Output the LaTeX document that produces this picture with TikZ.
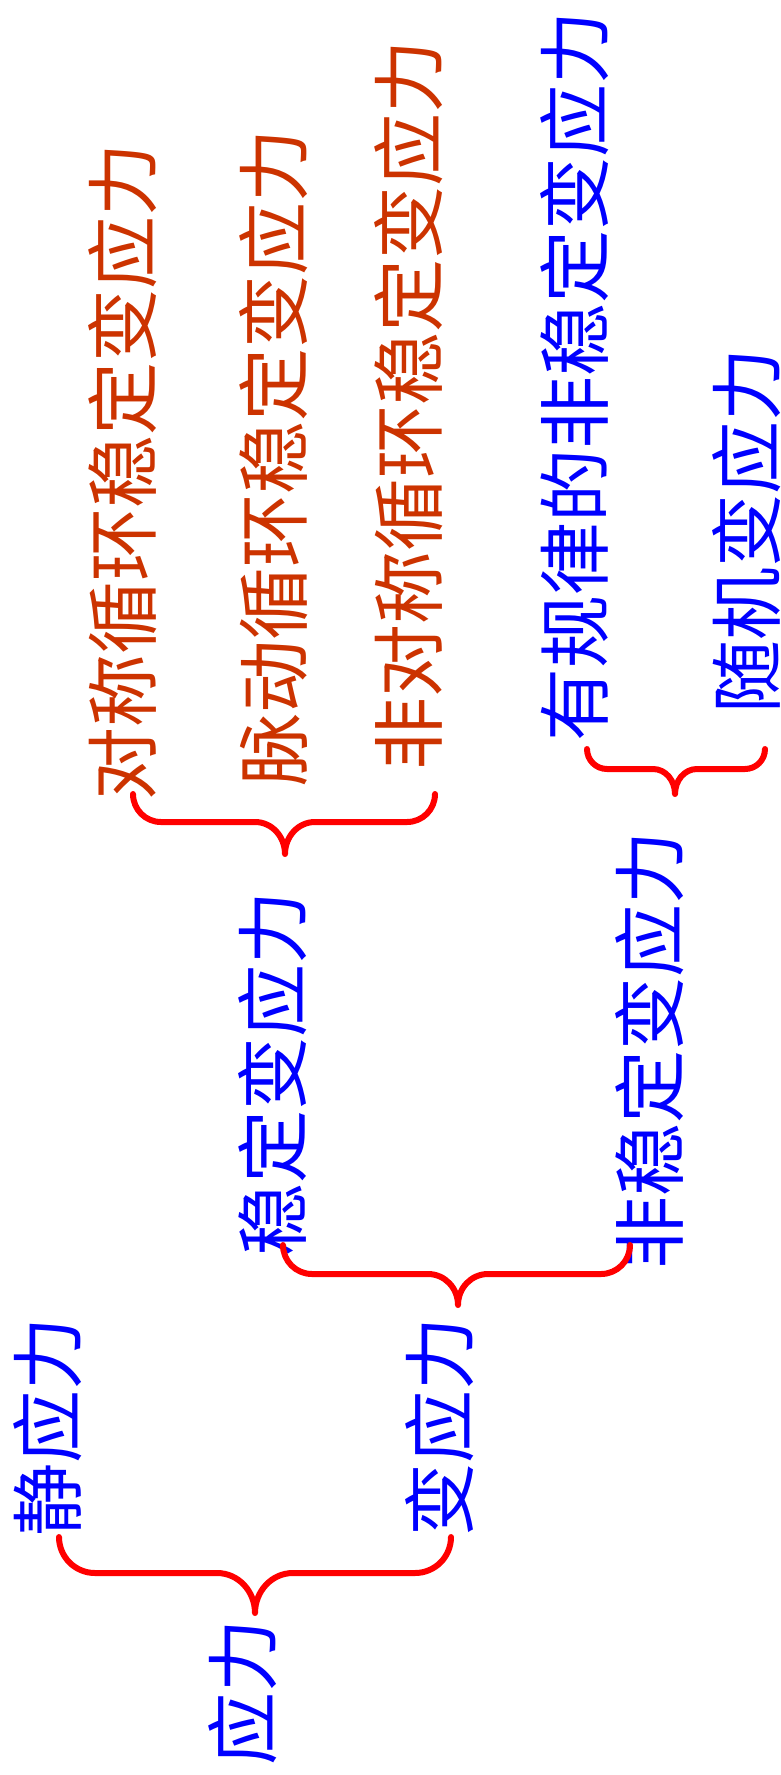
\documentclass[tikz,border=0pt]{standalone}
\usepackage{fontspec}
\newfontfamily\cjk{Noto Sans CJK SC}
\definecolor{tblue}{RGB}{0,0,255}
\definecolor{torange}{RGB}{204,51,0}
\definecolor{bred}{RGB}{255,0,0}
\tikzset{
  lbl/.style={rotate=90,inner sep=0pt,anchor=center,font=\cjk\fontsize{73}{73}\selectfont},
  bluelbl/.style={lbl,text=tblue},
  orangelbl/.style={lbl,text=torange},
  brc/.style={draw=bred,line width=6pt,line cap=round,line join=round}
}
% x0, x1, y of ends, y of horizontal, tip x, tip y, cusp radius
\newcommand\mybrace[7]{%
  \draw[brc] (#1,-#3) to[out=-90,in=180] (#1+#4-#3,-#4) -- (#5-#7,-#4)
    to[out=0,in=90] (#5,-#6) to[out=90,in=180] (#5+#7,-#4) -- (#2-#4+#3,-#4)
    to[out=0,in=-90] (#2,-#3);}
\begin{document}
\begin{tikzpicture}[x=1pt,y=1pt]
\useasboundingbox (0,0) rectangle (781,-1775);
\node[bluelbl] (root) at (243,-1692) {应力};
\node[bluelbl] (stat) at (48,-1427) {静应力};
\node[bluelbl] (var) at (440,-1427) {变应力};
\node[bluelbl] (stab) at (273,-1074) {稳定变应力};
\node[bluelbl] (unstab) at (650,-1050) {非稳定变应力};
\node[orangelbl] (sym) at (123,-472) {对称循环稳定变应力};
\node[orangelbl] (pul) at (274,-458) {脉动循环稳定变应力};
\node[orangelbl] (asym) at (409,-405) {非对称循环稳定变应力};
\node[bluelbl] (reg) at (575,-376) {有规律的非稳定变应力};
\node[bluelbl] (rand) at (747,-531) {随机变应力};
\mybrace{59}{451}{1537}{1573}{255}{1613}{38}
\mybrace{283}{630}{1245}{1274}{458}{1305}{30}
\mybrace{133}{435}{794}{822}{285}{854}{30}
\mybrace{587}{765}{749}{769}{675}{794}{22}
\end{tikzpicture}
\end{document}
